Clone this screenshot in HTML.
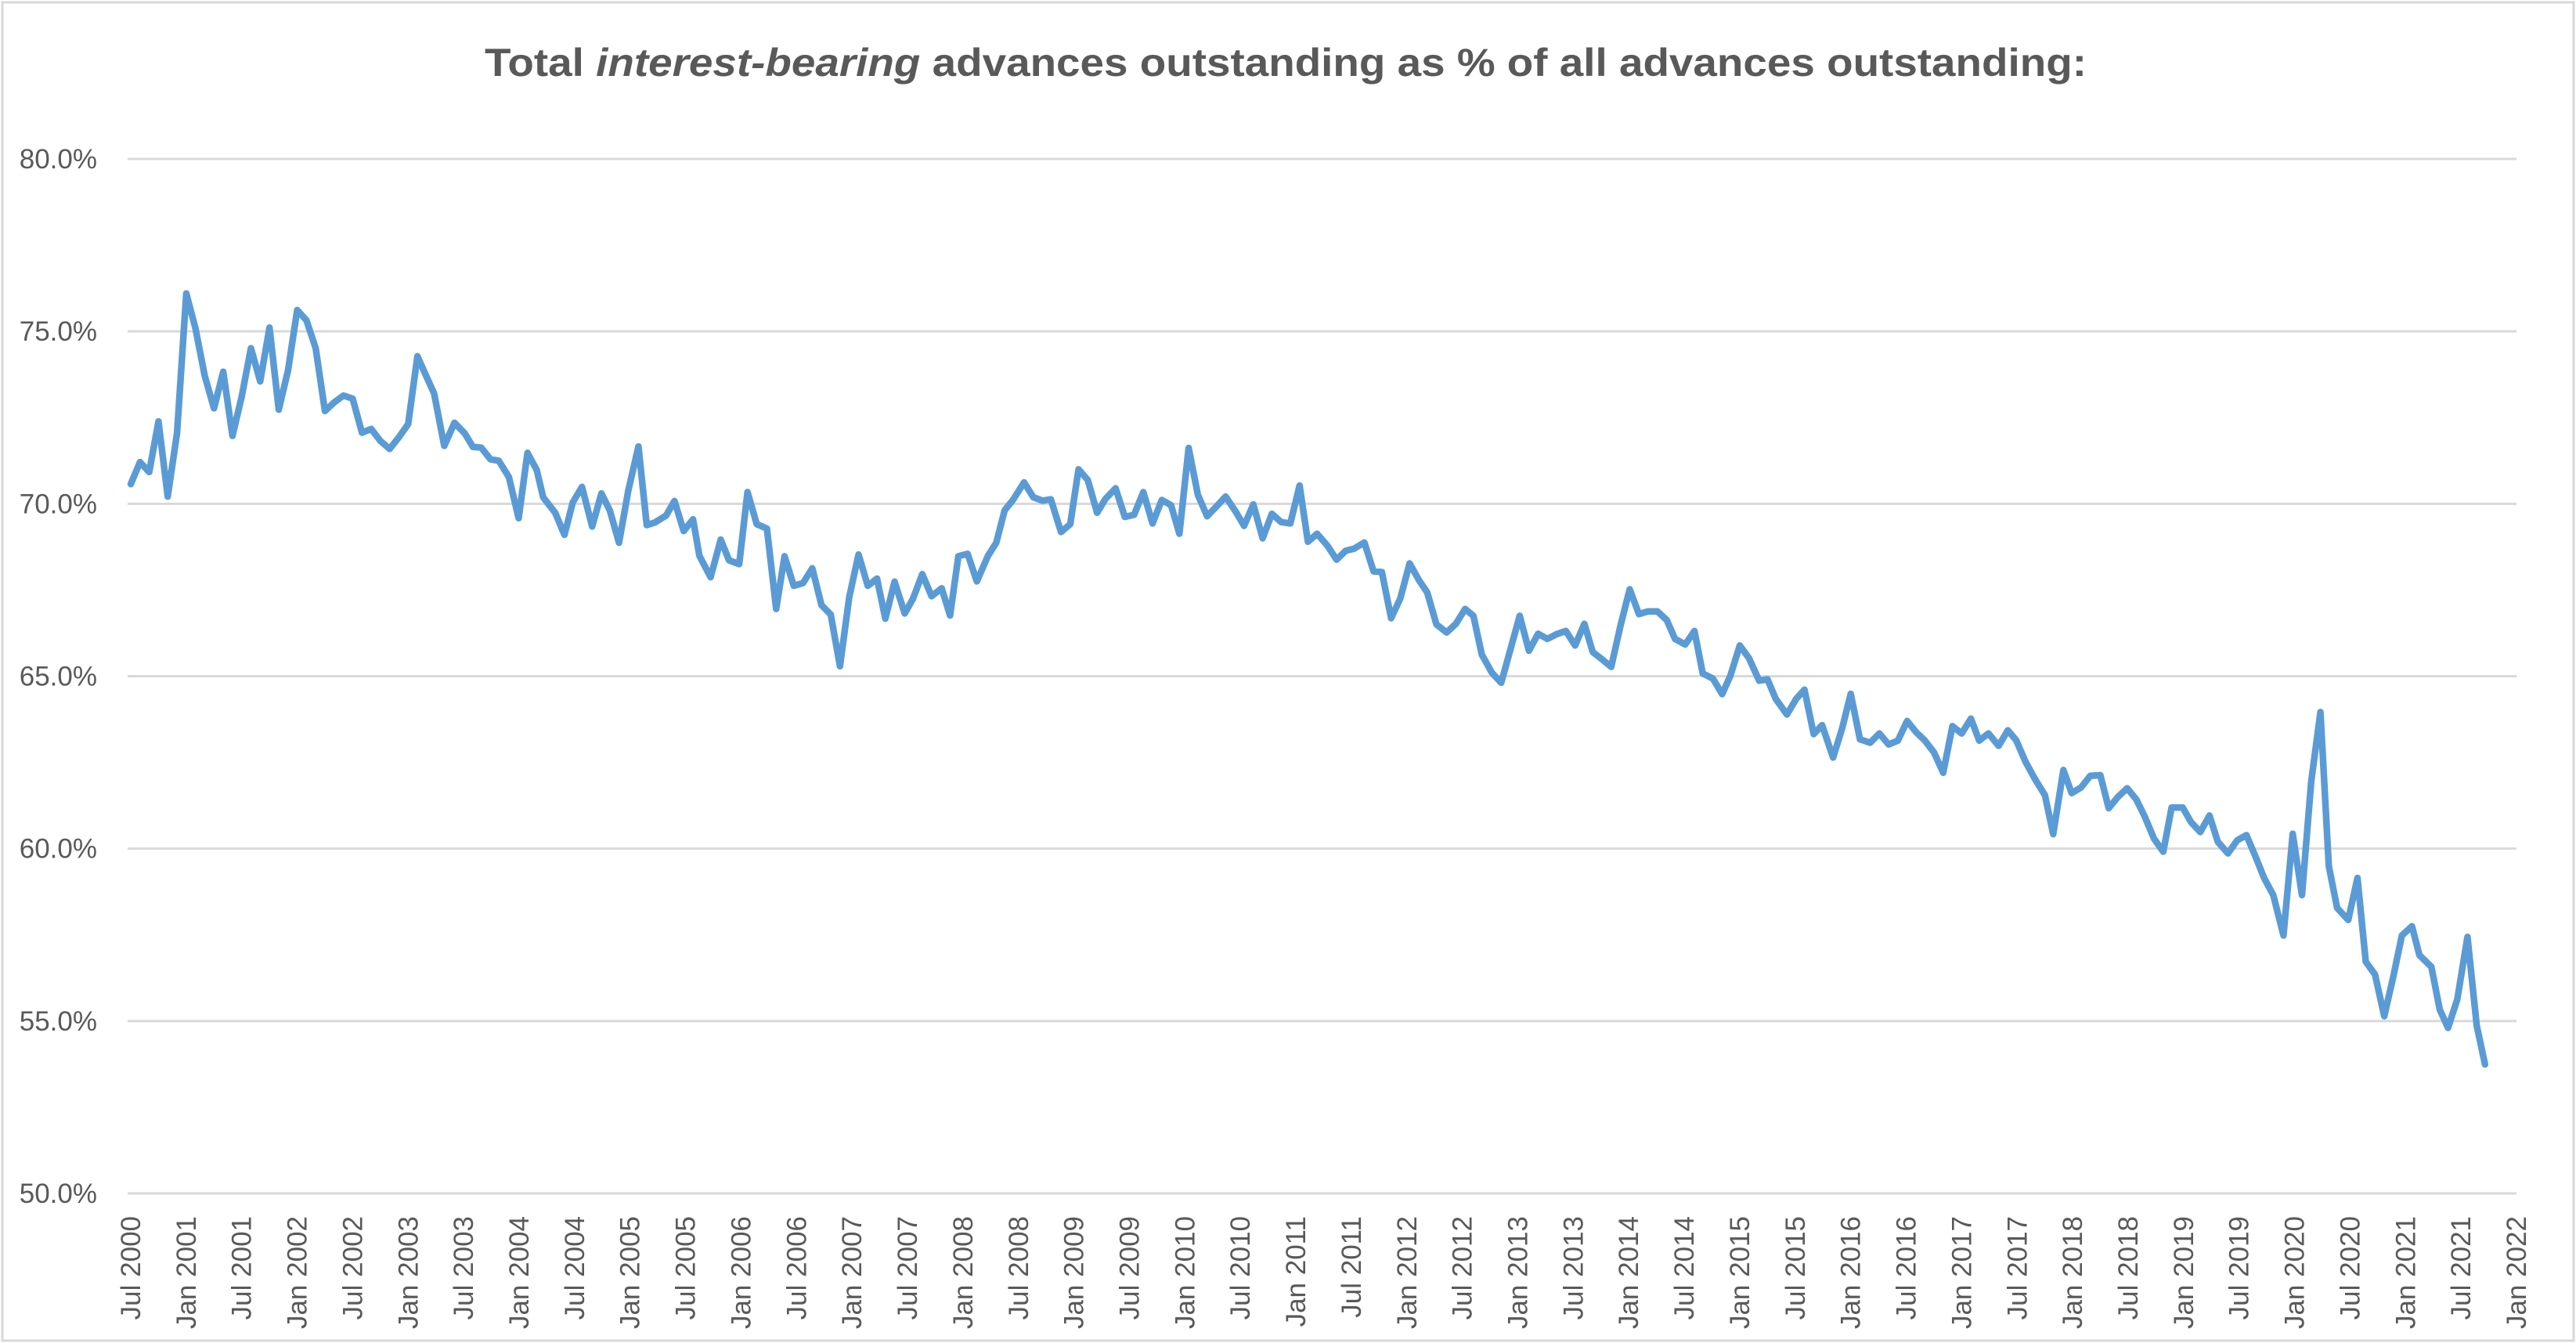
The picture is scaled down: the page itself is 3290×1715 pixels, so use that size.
<!DOCTYPE html>
<html><head><meta charset="utf-8">
<style>
html,body{margin:0;padding:0;background:#fff;}
svg{display:block;font-family:"Liberation Sans",sans-serif;}
</style></head>
<body>
<svg id="chart" width="3290" height="1715" viewBox="0 0 3290 1715" xmlns="http://www.w3.org/2000/svg">
<rect x="3" y="3" width="3284" height="1709" fill="#fff" stroke="#d9d9d9" stroke-width="3"/>
<text x="1642" y="97" text-anchor="middle" font-size="50" font-weight="bold" fill="#595959" textLength="2046" lengthAdjust="spacingAndGlyphs">Total <tspan font-style="italic">interest-bearing</tspan> advances outstanding as % of all advances outstanding:</text>
<g id="grid"></g><g id="ylabels"></g><g id="xlabels"></g><g id="series"></g>
</svg>
<script>
const yTicks = [50, 55, 60, 65, 70, 75, 80];
const xTickLabels = [];
const monthIdx = [0,1,2,3,4,5,6,7,8,9,10,11,12,13,14,15,16,17,18,19,20,21,22,23,24,25,26,27,28,29,30,31,31.8,32.8,33.9,35,36.1,37,37.9,38.9,39.8,40.9,41.95,42.9,43.9,
44.6,45.9,46.9,47.8,48.8,49.9,50.9,51.8,52.8,53.8,54.9,55.8,56.7,57.9,58.8,59.8,60.8,61.5,62.7,63.8,64.7,65.8,66.7,67.7,68.8,69.8,70.7,71.7,72.7,73.7,74.7,75.7,76.7,77.7,78.7,79.7,80.7,81.6,82.6,83.7,84.6,85.6,86.6,87.7,88.6,89.5,90.5,91.5,
92.7,93.6,94.5,95.4,96.6,97.6,98.6,99.5,100.6,101.6,102.5,103.5,104.5,105.4,106.5,107.5,108.5,109.5,110.5,111.5,112.5,113.4,114.4,115.4,116.4,117.4,118.4,119.5,120.4,121.4,122.4,123.4,124.4,125.4,126.4,127.3,128.3,129.4,130.4,131.4,132.3,133.4,134.4,135.3,136.3,
137.3,138.3,139.3,140.2,141.2,142.3,143.3,144.3,145.2,146.1,147.2,148.2,149.2,150.2,151.2,152.2,153.2,154.2,155.2,156.2,157.2,158.1,159.1,160.1,161.1,162.1,163.1,164.1,165.1,166.1,167,168.1,169.1,170,171.1,172.1,173,174,175,176.1,177,177.9,179.1,180.1,181,182,182.9,
184.1,185.1,186,187,188.1,189.1,190.1,191.1,192.1,193.1,194,195,196,197,198,199,199.9,200.9,202,203,203.9,204.9,205.9,207,207.9,209,209.9,210.9,211.9,213,213.9,214.9,215.9,216.9,217.8,218.8,219.8,
220.7,221.9,222.8,223.8,224.8,225.7,226.8,227.8,228.8,229.8,230.7,231.7,232.8,233.8,234.8,235.8,236.8,237.7,238.6,239.8,240.8,241.7,242.7,243.7,244.7,245.6,246.7,247.5,248.8,249.7,250.6,251.6,252.7,253.7,254.6];
const values = [70.57,71.21,70.92,72.39,70.21,72.05,76.10,75.08,73.71,72.77,73.83,71.97,73.11,74.51,73.55,75.11,72.73,73.86,75.62,75.32,74.51,72.69,72.94,73.14,73.05,72.06,72.17,71.82,71.59,71.93,72.31,74.28,73.79,73.20,71.68,72.35,72.05,71.65,71.63,71.29,71.25,70.77,69.58,71.48,70.98,
70.19,69.74,69.10,70.04,70.49,69.34,70.30,69.81,68.87,70.38,71.66,69.38,69.46,69.66,70.08,69.21,69.55,68.49,67.87,68.96,68.36,68.25,70.34,69.41,69.28,66.95,68.48,67.62,67.70,68.13,67.06,66.79,65.29,67.29,68.53,67.62,67.83,66.67,67.74,66.82,67.25,67.96,67.32,67.55,66.76,68.48,68.55,67.75,
68.49,68.87,69.81,70.11,70.62,70.19,70.09,70.13,69.18,69.41,71.00,70.69,69.74,70.14,70.45,69.62,69.68,70.34,69.43,70.11,69.96,69.13,71.62,70.26,69.64,69.92,70.21,69.77,69.36,69.98,69.00,69.71,69.47,69.43,70.53,68.90,69.13,68.79,68.38,68.64,68.70,68.88,68.04,68.02,66.68,
67.26,68.27,67.79,67.43,66.50,66.27,66.52,66.95,66.75,65.63,65.10,64.81,65.78,66.75,65.74,66.23,66.08,66.22,66.31,65.89,66.52,65.70,65.49,65.27,66.46,67.52,66.80,66.88,66.88,66.63,66.08,65.92,66.31,65.08,64.93,64.48,65.02,65.89,65.52,64.87,64.91,64.34,63.89,64.34,64.61,63.32,63.58,
62.64,63.51,64.49,63.17,63.07,63.34,63.02,63.13,63.70,63.37,63.14,62.79,62.20,63.55,63.34,63.77,63.13,63.34,62.98,63.43,63.14,62.52,62.03,61.55,60.42,62.28,61.61,61.77,62.11,62.13,61.17,61.50,61.75,61.42,60.93,60.29,59.91,
61.19,61.19,60.77,60.48,60.96,60.20,59.86,60.24,60.39,59.75,59.15,58.65,57.48,60.43,58.65,61.94,63.96,59.49,58.28,57.93,59.15,56.72,56.35,55.14,56.31,57.48,57.75,56.91,56.57,55.33,54.80,55.63,57.44,54.87,53.74];

const NS = "http://www.w3.org/2000/svg";
const X0 = 167, X1 = 3214, M0 = 0, M1 = 258;
const Y0 = 1524, Y1 = 203, V0 = 50, V1 = 80;
function xScale(m){ return X0 + (m - M0) / (M1 - M0) * (X1 - X0); }
function yScale(v){ return Y0 - (v - V0) / (V1 - V0) * (Y0 - Y1); }
function mk(tag, attrs, parent){ const e = document.createElementNS(NS, tag); for (const k in attrs) e.setAttribute(k, attrs[k]); parent.appendChild(e); return e; }

for (let y = 2000; y <= 2022; y++) {
  if (y > 2000) xTickLabels.push("Jan " + y);
  if (y < 2022) xTickLabels.push("Jul " + y);
}
const grid = document.getElementById("grid"), yl = document.getElementById("ylabels"), xl = document.getElementById("xlabels"), ser = document.getElementById("series");
yTicks.forEach(v => {
  const ln = mk("line", {x1: X0 - 4, x2: X1, y1: yScale(v), y2: yScale(v), stroke: "#d9d9d9", "stroke-width": 3}, grid);
  
  
  const t = mk("text", {x: 124, y: yScale(v) + 12, "text-anchor": "end", "font-size": 35, fill: "#595959"}, yl);
  t.textContent = v.toFixed(1) + "%";
  
  
});
xTickLabels.forEach((lab, i) => {
  const x = xScale(i * 6) + 12;
  const t = mk("text", {x: 0, y: 0, transform: "translate(" + x + ",1553) rotate(-90)", "text-anchor": "end", "font-size": 35, fill: "#595959"}, xl);
  t.textContent = lab;
  
  
});
const pts = monthIdx.map((m, i) => xScale(m).toFixed(1) + "," + yScale(values[i]).toFixed(1)).join(" ");
const pl = mk("polyline", {points: pts, fill: "none", stroke: "#5b9bd5", "stroke-width": 8.5, "stroke-linejoin": "round", "stroke-linecap": "round"}, ser);


</script>
</body></html>
